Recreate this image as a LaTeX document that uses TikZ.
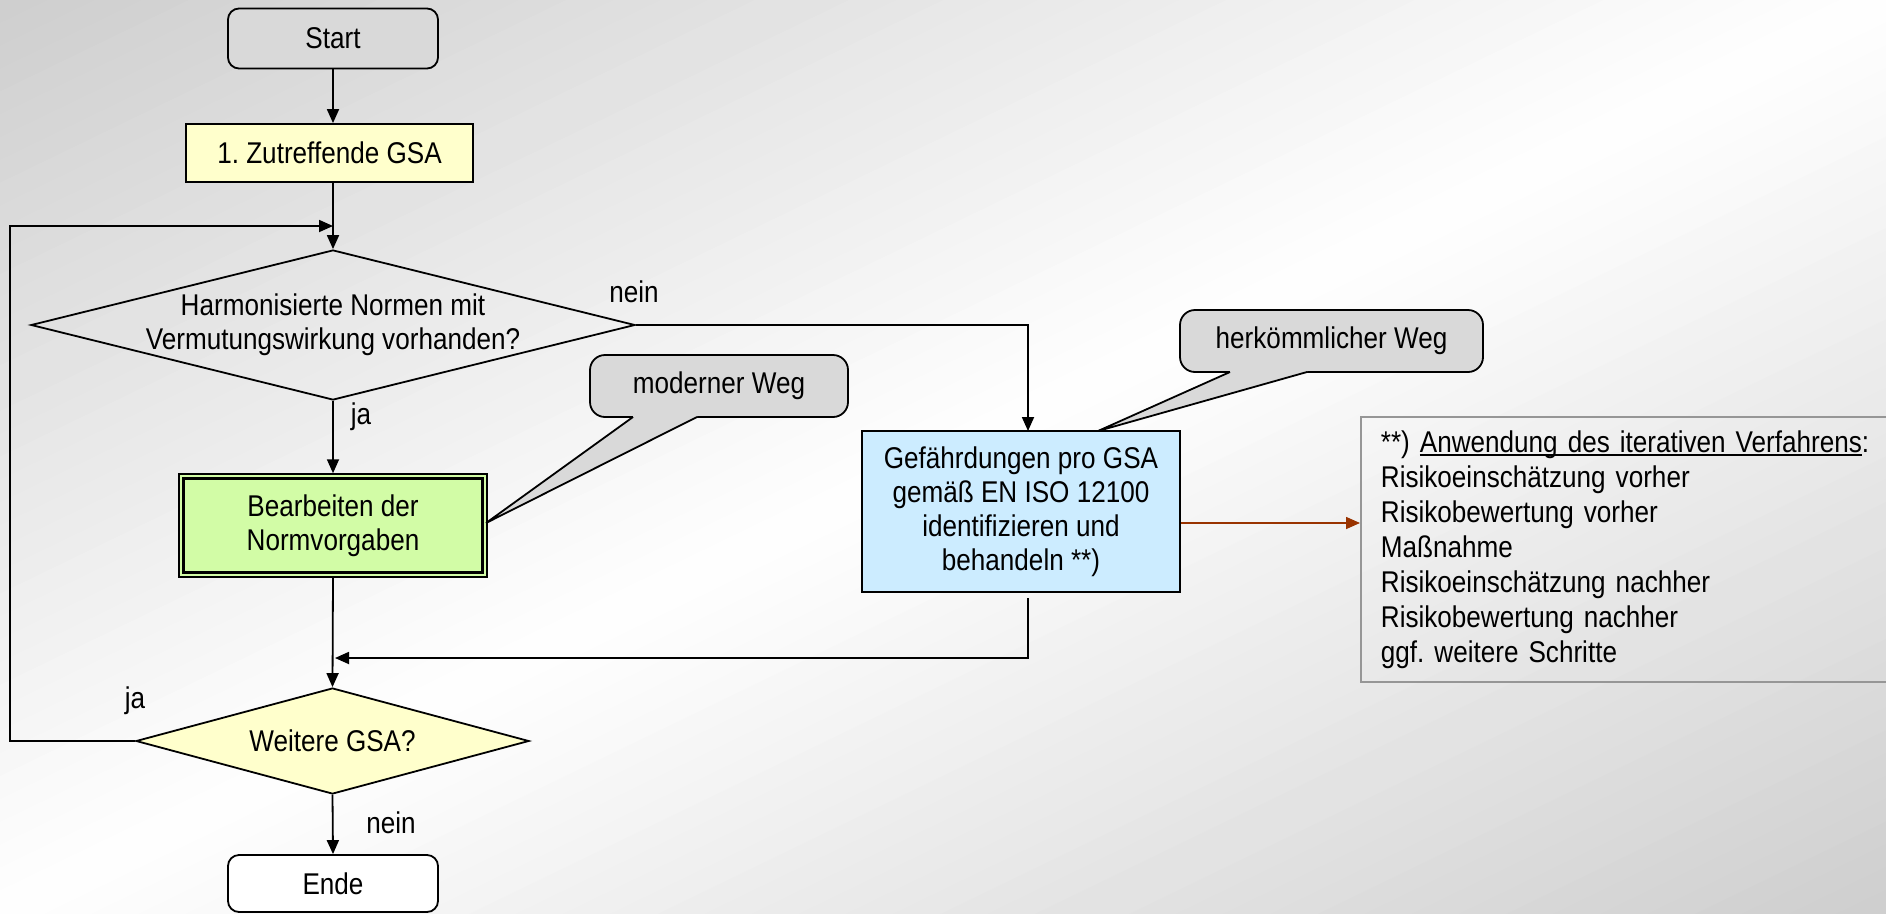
\documentclass[tikz,border=0pt]{standalone}
\usepackage{fontspec}
\setmainfont[FakeStretch=0.87]{Liberation Sans}
\usetikzlibrary{arrows.meta,shapes.geometric}
\definecolor{bgg}{RGB}{206,206,206}
\definecolor{boxgray}{RGB}{217,217,217}
\definecolor{yel}{RGB}{255,255,204}
\definecolor{grn}{RGB}{210,252,166}
\definecolor{blu}{RGB}{204,236,255}
\definecolor{brn}{RGB}{153,51,0}
\definecolor{notegray}{RGB}{150,150,150}
\newcommand\myul[1]{\setbox0\hbox{#1}\rlap{\rule[-3.5pt]{\wd0}{1.4pt}}\box0}
\frenchspacing
\begin{document}
\begin{tikzpicture}[x=1pt,y=-1pt,
  font=\fontsize{30}{34}\selectfont,
  line width=1.8pt,
  arr/.style={-{Triangle[length=14pt,width=12pt]}},
  term/.style={draw, rounded corners=11pt, minimum width=210pt, inner sep=0pt},
  procbox/.style={draw, inner sep=0pt, align=center},
  dia/.style={draw, diamond, inner sep=0pt},
  bubble/.style={draw, fill=boxgray, rounded corners=15pt, inner sep=0pt},
  lbl/.style={inner sep=0pt}
]
\useasboundingbox (0,0) rectangle (1886,913);
\clip (0,0) rectangle (1886,913);
% background gradient
\foreach \i in {0,...,79}{
  \pgfmathtruncatemacro\pc{100*abs((\i+0.5)/40-1)}
  \fill[bgg!\pc!white] ({1886*(\i/40+1)},-913) -- ({1886*((\i+1.2)/40+1)},-913) -- ({1886*((\i+1.2)/40-2)},1826) -- ({1886*(\i/40-2)},1826) -- cycle;
}
% nodes
\node[term, fill=boxgray, minimum height=60pt] (start) at (333,38.5) {Start};
\node[procbox, fill=yel, minimum width=287pt, minimum height=58pt] (box1) at (329.5,153) {1. Zutreffende GSA};
\node[dia, minimum width=604pt, minimum height=150pt,
  label={[align=center, lbl]center:Harmonisierte Normen mit\\Vermutungswirkung vorhanden?}] (d1) at (333,325) {};
\node[procbox, fill=grn, line width=1.5pt, minimum width=308pt, minimum height=103pt] (green) at (333,525.5) {Bearbeiten der\\Normvorgaben};
\draw[line width=3pt] ([shift={(5.5pt,-5.5pt)}]green.north west) rectangle ([shift={(-5.5pt,5.5pt)}]green.south east);
\node[procbox, fill=blu, minimum width=318pt, minimum height=161pt] (blue) at (1021,511.5) {Gefährdungen pro GSA\\gemäß EN ISO 12100\\identifizieren und\\behandeln **)};
\node[dia, fill=yel, minimum width=393pt, minimum height=106pt, label={[lbl]center:Weitere GSA?}] (d2) at (332.5,741) {};
\node[term, fill=white, minimum height=57pt] (ende) at (333,883.5) {Ende};
% callouts
\node[bubble, minimum width=258pt, minimum height=62pt] (cm) at (719,386) {moderner Weg};
\fill[boxgray] (633,413) -- (697,413) -- (697,417) -- (486,523) -- (633,417) -- cycle;
\draw (633,417) -- (486,523) -- (697,417);
\node[bubble, minimum width=303pt, minimum height=62pt] (ch) at (1331.5,341) {herkömmlicher Weg};
\fill[boxgray] (1230,368) -- (1307,368) -- (1307,372) -- (1098,431) -- (1230,372) -- cycle;
\draw (1230,372) -- (1098,431) -- (1307,372);
% note
\node[draw=notegray, line width=1.8pt, anchor=north west, minimum width=600pt, minimum height=265pt,
  text width=560pt, inner xsep=20pt, align=left, font=\fontsize{30}{35}\selectfont] (note) at (1360,416)
  {**) \myul{Anwendung des iterativen Verfahrens}:\\Risikoeinschätzung vorher\\Risikobewertung vorher\\Maßnahme\\Risikoeinschätzung nachher\\Risikobewertung nachher\\ggf. weitere Schritte};
% labels
\node[lbl] (nein1) at (634,292) {nein};
\node[lbl] (ja1) at (361,417) {ja};
\node[lbl] (ja2) at (135,701) {ja};
\node[lbl] (nein2) at (391,823) {nein};
% connectors
\coordinate (lp) at (333,226);
\coordinate (bx) at (1028,431);
\coordinate (bb) at (1028,598);
\coordinate (mg) at (335,658);
\coordinate (ba) at (0,523);
\draw[arr] (start.south) -- (start.south |- box1.north);
\draw[arr] (d1.north |- box1.south) -- (d1.north);
\draw[arr] (d2.west) -- ++(-125,0) |- (lp);
\draw[arr] (d1.east) -| (bx);
\draw[arr] (d1.south) -- (green.north);
\draw[arr] (green.south) -- (d2.north);
\draw[arr] (bb) |- (mg);
\draw[arr] (d2.south) -- (ende.north);
\draw[arr, brn, line width=1.5pt] (blue.east |- ba) -- (note.west |- ba);
\end{tikzpicture}
\end{document}
